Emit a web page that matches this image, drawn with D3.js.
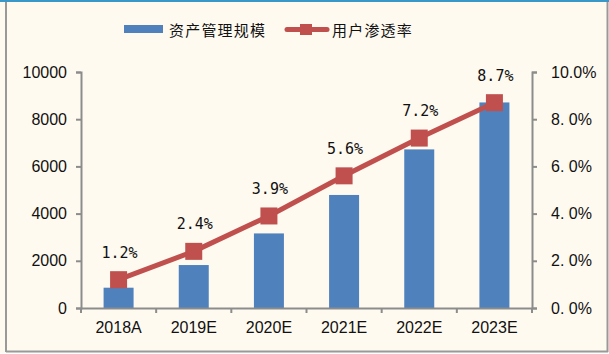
<!DOCTYPE html>
<html>
<head>
<meta charset="utf-8">
<script src="https://cdn.jsdelivr.net/npm/d3@7"></script>
<style>
    html, body { margin: 0; padding: 0; background: #fffaf0; }
    svg { display: block; }
</style>
</head>
<body>
<div id="chart"></div>
<script>
// data
const categories = ['2018A', '2019E', '2020E', '2021E', '2022E', '2023E'];
const aum = [860, 1820, 3160, 4790, 6720, 8710];
const penetration = [1.2, 2.4, 3.9, 5.6, 7.2, 8.7];
const leftTicks = [0, 2000, 4000, 6000, 8000, 10000];
const rightTicks = [0, 2, 4, 6, 8, 10];
const seriesNames = ['资产管理规模', '用户渗透率'];

const W = 609;
const H = 354;
const BAR_COLOR = '#4f81bd';
const LINE_COLOR = '#c0504d';
const AXIS_COLOR = '#8c8c8c';
const NUM_FONT = 'Liberation Sans, Arial, sans-serif';
const CJK_FONT = '"Noto Sans CJK SC", sans-serif';

const svg = d3.select('#chart')
    .append('svg')
    .attr('width', W)
    .attr('height', H);

// frame
svg.append('rect')
    .attr('x', 0).attr('y', 0)
    .attr('width', W).attr('height', H)
    .attr('fill', '#fffaf0');
svg.append('rect')
    .attr('x', 0).attr('y', 353)
    .attr('width', W).attr('height', 1)
    .attr('fill', '#ffffff');
svg.append('line')
    .attr('x1', 0).attr('x2', W).attr('y1', 1).attr('y2', 1)
    .attr('stroke', '#3a98c8').attr('stroke-width', 2);
svg.append('line')
    .attr('x1', 6).attr('x2', 6).attr('y1', 2).attr('y2', 352)
    .attr('stroke', '#999').attr('stroke-width', 2);
svg.append('line')
    .attr('x1', 607.5).attr('x2', 607.5).attr('y1', 2).attr('y2', 352)
    .attr('stroke', '#999').attr('stroke-width', 2);
svg.append('line')
    .attr('x1', 6).attr('x2', 608).attr('y1', 351.5).attr('y2', 351.5)
    .attr('stroke', '#999').attr('stroke-width', 2);

const plot = { left: 81, right: 532, top: 72, bottom: 308 };

const xPoint = d3.scaleBand()
    .domain(categories)
    .range([plot.left, plot.right]);

const yLeft = d3.scaleLinear()
    .domain([0, 10000])
    .range([plot.bottom, plot.top]);

const yRight = d3.scaleLinear()
    .domain([0, 10])
    .range([plot.bottom, plot.top]);

// bars
svg.append('g')
    .selectAll('rect')
    .data(aum)
    .enter()
    .append('rect')
    .attr('x', (d, i) => xPoint(categories[i]) + xPoint.bandwidth() / 2 - 15)
    .attr('width', 30)
    .attr('y', d => yLeft(d))
    .attr('height', d => yLeft(0) - yLeft(d))
    .attr('fill', BAR_COLOR);

// axes
function styleAxis(g) {
    g.selectAll('path').attr('stroke', AXIS_COLOR).attr('stroke-width', 2);
    g.selectAll('line').attr('stroke', AXIS_COLOR).attr('stroke-width', 2);
    g.selectAll('text')
        .attr('fill', '#111')
        .style('font-family', NUM_FONT)
        .style('font-size', '16px');
}

const leftAxis = svg.append('g')
    .attr('transform', `translate(${plot.left},0)`)
    .call(d3.axisLeft(yLeft).tickValues(leftTicks).tickSize(5).tickSizeOuter(5).tickPadding(9)
        .tickFormat(d3.format('d')));
styleAxis(leftAxis);

const rightAxis = svg.append('g')
    .attr('transform', `translate(${plot.right},0)`)
    .call(d3.axisRight(yRight).tickValues(rightTicks).tickSize(5).tickSizeOuter(5).tickPadding(14)
        .tickFormat(d => (d === 10 ? '10.0%' : d + '. 0%')));
styleAxis(rightAxis);

const bottomAxis = svg.append('g')
    .attr('transform', `translate(0,${plot.bottom})`)
    .call(d3.axisBottom(xPoint).tickSize(0).tickPadding(14));
styleAxis(bottomAxis);

// category separators on x axis
svg.append('g')
    .selectAll('line')
    .data(categories.concat(['end']))
    .enter()
    .append('line')
    .attr('x1', (d, i) => plot.left + i * xPoint.bandwidth())
    .attr('x2', (d, i) => plot.left + i * xPoint.bandwidth())
    .attr('y1', plot.bottom)
    .attr('y2', plot.bottom + 5)
    .attr('stroke', AXIS_COLOR)
    .attr('stroke-width', 2);

// line series
const cx = (d, i) => xPoint(categories[i]) + xPoint.bandwidth() / 2;
const line = d3.line()
    .x(cx)
    .y(d => yRight(d));

svg.append('path')
    .datum(penetration)
    .attr('d', line)
    .attr('fill', 'none')
    .attr('stroke', LINE_COLOR)
    .attr('stroke-width', 5);

const MS = 17;
svg.append('g')
    .selectAll('rect')
    .data(penetration)
    .enter()
    .append('rect')
    .attr('x', (d, i) => cx(d, i) - MS / 2)
    .attr('y', d => yRight(d) - MS / 2)
    .attr('width', MS)
    .attr('height', MS)
    .attr('fill', LINE_COLOR);

// data labels
svg.append('g')
    .selectAll('text')
    .data(penetration)
    .enter()
    .append('text')
    .attr('x', (d, i) => cx(d, i) + 1)
    .attr('y', d => yRight(d) - 22)
    .attr('text-anchor', 'middle')
    .style('font-family', '"DejaVu Sans Mono", monospace')
    .style('font-size', '15px')
    .attr('fill', '#111')
    .text(d => d.toFixed(1) + '%');

// legend
const legend = svg.append('g');
legend.append('rect')
    .attr('x', 124).attr('y', 25)
    .attr('width', 39).attr('height', 8)
    .attr('fill', BAR_COLOR);
legend.append('text')
    .attr('x', 169).attr('y', 36)
    .style('font-family', CJK_FONT)
    .style('font-size', '15px')
    .style('letter-spacing', '1.2px')
    .attr('fill', '#111')
    .text(seriesNames[0]);
legend.append('line')
    .attr('x1', 287).attr('x2', 327).attr('y1', 29.5).attr('y2', 29.5)
    .attr('stroke', LINE_COLOR).attr('stroke-width', 5)
    .attr('stroke-linecap', 'round');
legend.append('rect')
    .attr('x', 300).attr('y', 24)
    .attr('width', 12).attr('height', 11)
    .attr('fill', LINE_COLOR);
legend.append('text')
    .attr('x', 332).attr('y', 36)
    .style('font-family', CJK_FONT)
    .style('font-size', '15px')
    .style('letter-spacing', '1.2px')
    .attr('fill', '#111')
    .text(seriesNames[1]);
</script>
</body>
</html>
